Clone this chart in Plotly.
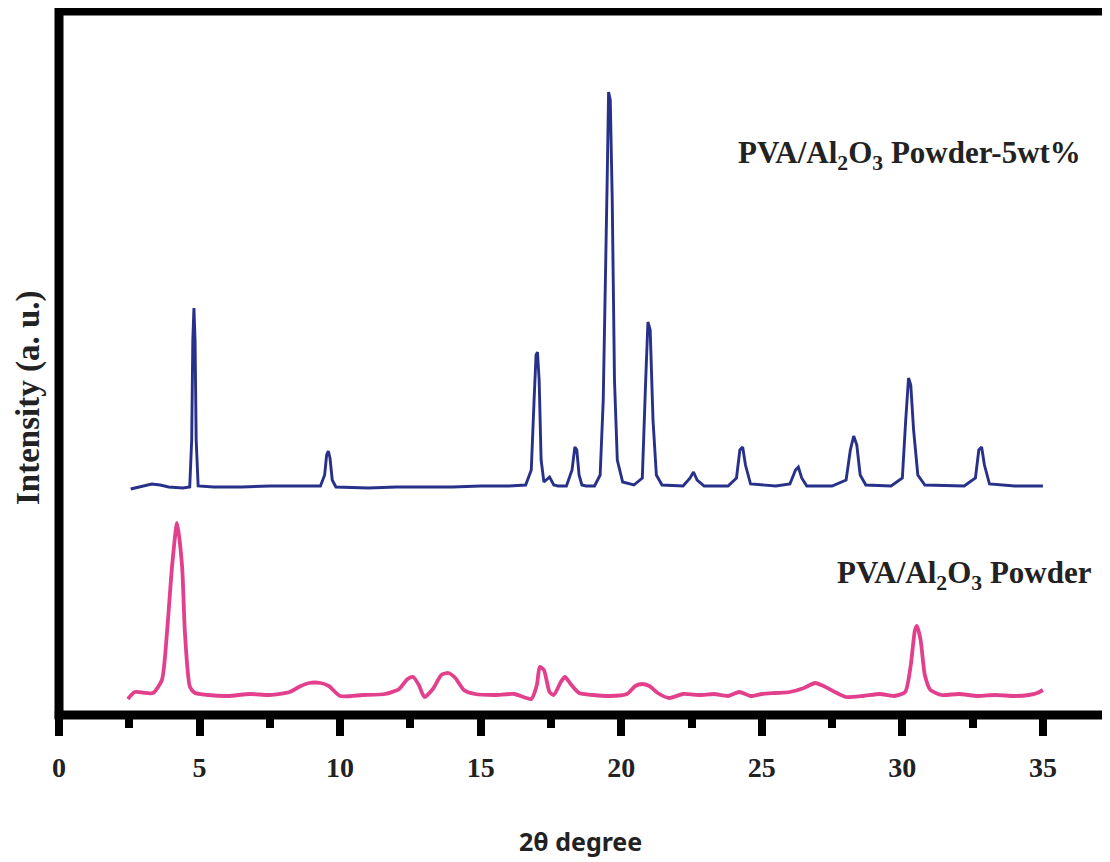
import plotly.graph_objects as go

# ---- data (2θ in degrees, intensity in a.u.) ----
blue_name = "PVA/Al<sub>2</sub>O<sub>3</sub> Powder-5wt%"
blue_x = [2.55, 2.9, 3.3, 3.6, 3.9, 4.4, 4.65, 4.72, 4.76, 4.80, 4.84, 4.88, 4.95,
          5.5, 6.5, 7.5, 8.5, 9.3, 9.45, 9.52, 9.58, 9.64, 9.72, 9.85,
          11.0, 12.0, 13.0, 14.0, 15.0, 16.0, 16.6, 16.8, 16.9, 16.97, 17.02, 17.08, 17.15, 17.25,
          17.45, 17.6, 17.75, 18.05, 18.25, 18.35, 18.42, 18.5, 18.6, 18.75,
          19.05, 19.25, 19.36, 19.44, 19.50, 19.55, 19.61, 19.68, 19.76, 19.86, 20.05,
          20.45, 20.75, 20.87, 20.95, 21.03, 21.13, 21.25, 21.45,
          22.2, 22.45, 22.57, 22.7, 22.95, 23.8, 24.1, 24.22, 24.32, 24.42, 24.6,
          25.5, 26.0, 26.2, 26.3, 26.42, 26.6, 27.5, 28.0, 28.15, 28.27, 28.38, 28.5, 28.7,
          29.6, 30.0, 30.12, 30.22, 30.3, 30.4, 30.55, 30.8,
          32.2, 32.6, 32.72, 32.82, 32.92, 33.1, 34.0, 35.0]
blue_y = [226, 228, 231, 230, 228, 227, 228, 275, 375, 407, 375, 275, 229,
          228, 228, 229, 229, 229, 240, 260, 264, 257, 235, 228,
          227, 228, 228, 228, 229, 229, 230, 245, 315, 360, 363, 335, 255, 233,
          238, 230, 229, 229, 245, 268, 265, 240, 230, 229,
          229, 240, 315, 425, 535, 623, 615, 515, 335, 255, 233,
          230, 237, 335, 393, 385, 295, 240, 230,
          229, 237, 243, 235, 229, 229, 237, 265, 268, 250, 231,
          229, 231, 245, 248, 237, 229, 229, 235, 265, 279, 270, 240, 230,
          229, 237, 295, 337, 330, 285, 240, 230,
          229, 237, 265, 268, 250, 231, 229, 229]

pink_name = "PVA/Al<sub>2</sub>O<sub>3</sub> Powder"
pink_x = [2.45, 2.70, 3.34, 3.66, 3.84, 4.02, 4.20, 4.38, 4.48, 4.66, 4.84,
          5.3, 6.0, 6.8, 7.5, 8.2, 8.6, 8.9, 9.3, 9.6, 10.0, 10.8, 11.6,
          12.1, 12.4, 12.6, 12.8, 13.0, 13.3, 13.6, 13.85, 14.1, 14.4, 14.8,
          15.5, 16.2, 16.8, 17.0, 17.1, 17.25, 17.45, 17.6, 17.85, 18.0, 18.2, 18.5,
          19.0, 19.6, 20.2, 20.5, 20.75, 21.0, 21.3, 21.7, 22.2, 22.8, 23.3, 23.8,
          24.2, 24.6, 25.0, 25.5, 26.0, 26.5, 26.9, 27.2, 27.6, 28.0, 28.6, 29.2,
          29.7, 30.1, 30.3, 30.45, 30.52, 30.65, 30.8, 31.0, 31.4, 32.0, 32.7,
          33.3, 34.0, 34.5, 34.8, 35.0]
pink_y = [16, 23, 22, 35, 82, 148, 192, 148, 82, 28, 22,
          20, 19, 21, 20, 23, 29, 32, 32, 29, 19, 20, 21,
          26, 36, 38, 30, 18, 26, 40, 42, 37, 25, 21,
          20, 21, 16, 30, 48, 45, 23, 20, 33, 38, 31, 22,
          20, 19, 21, 29, 31, 29, 22, 17, 21, 20, 21, 19,
          23, 19, 21, 22, 23, 27, 32, 29, 23, 18, 19, 21,
          19, 23, 50, 85, 89, 75, 40, 25, 20, 21, 19,
          20, 19, 20, 22, 25]

x_ticks = [0, 5, 10, 15, 20, 25, 30, 35]

# ---- figure (page has an 8px body margin, so the figure is offset by 8px) ----
OFF = 8
W, H = 1110 - OFF, 862 - OFF
ML, MR, MT, MB = 59 - OFF, 3, 11 - OFF, 147

fig = go.Figure()
fig.add_trace(go.Scatter(x=pink_x, y=pink_y, mode="lines", name=pink_name,
                         line=dict(color="#e2408c", width=3.8, shape="spline", smoothing=0.6)))
fig.add_trace(go.Scatter(x=blue_x, y=blue_y, mode="lines", name=blue_name,
                         line=dict(color="#28318a", width=2.9)))

serif = "Liberation Serif"
fig.update_layout(
    width=W, height=H,
    margin=dict(l=ML, r=MR, t=MT, b=MB),
    paper_bgcolor="white", plot_bgcolor="white",
    showlegend=False,
    xaxis=dict(range=[0, 37.28], tickvals=x_ticks, ticktext=[f"<b>{v}</b>" for v in x_ticks],
               ticks="outside", ticklen=20, tickwidth=8, tickcolor="black",
               showline=False, showgrid=False, zeroline=False,
               tickfont=dict(family=serif, size=28, color="#222"),
               ticklabelstandoff=7,
               minor=dict(dtick=2.5, tick0=0, ticks="outside", ticklen=12, tickwidth=8,
                          tickcolor="black", showgrid=False)),
    yaxis=dict(range=[0, 704], showticklabels=False, ticks="", showgrid=False,
               zeroline=False, showline=False),
)

# frame
lw = 9
fig.add_shape(type="line", xref="paper", yref="paper", x0=0, x1=1.0, y0=1, y1=1,
              line=dict(color="black", width=lw))
fig.add_shape(type="line", xref="paper", yref="paper", x0=0, x1=0, y0=-0.006, y1=1.006,
              line=dict(color="black", width=lw))
fig.add_shape(type="line", xref="paper", yref="paper", x0=-0.004, x1=1.01, y0=0, y1=0,
              line=dict(color="black", width=lw))
fig.add_shape(type="line", xref="paper", yref="paper", x0=1.0, x1=1.0, y0=0, y1=1,
              line=dict(color="#888", width=1.5))

def px_to_paper(px, py):
    # px, py are page pixels of the reference picture
    fx, fy = px - OFF, py - OFF
    return (fx - ML) / (W - ML - MR), (H - MB - fy) / (H - MT - MB)

ax, ay = px_to_paper(1083, 155)
fig.add_annotation(xref="paper", yref="paper", x=ax, y=ay, xanchor="right", yanchor="middle",
                   text="<b>" + blue_name + "</b>", showarrow=False,
                   font=dict(family=serif, size=31, color="#222"))
ax, ay = px_to_paper(1094, 575)
fig.add_annotation(xref="paper", yref="paper", x=ax, y=ay, xanchor="right", yanchor="middle",
                   text="<b>" + pink_name + "</b>", showarrow=False,
                   font=dict(family=serif, size=31, color="#222"))
ax, ay = px_to_paper(580, 841)
fig.add_annotation(xref="paper", yref="paper", x=ax, y=ay, xanchor="center", yanchor="middle",
                   text="<b>2θ degree</b>", showarrow=False, borderpad=0,
                   font=dict(family="Noto Sans", size=25, color="#222"))
ax, ay = px_to_paper(28, 398)
fig.add_annotation(xref="paper", yref="paper", x=ax, y=ay, xanchor="center", yanchor="middle",
                   text="<b>Intensity (a. u.)</b>", showarrow=False, textangle=-90, borderpad=0,
                   font=dict(family=serif, size=33, color="#222"))

fig.write_html("out.html")
